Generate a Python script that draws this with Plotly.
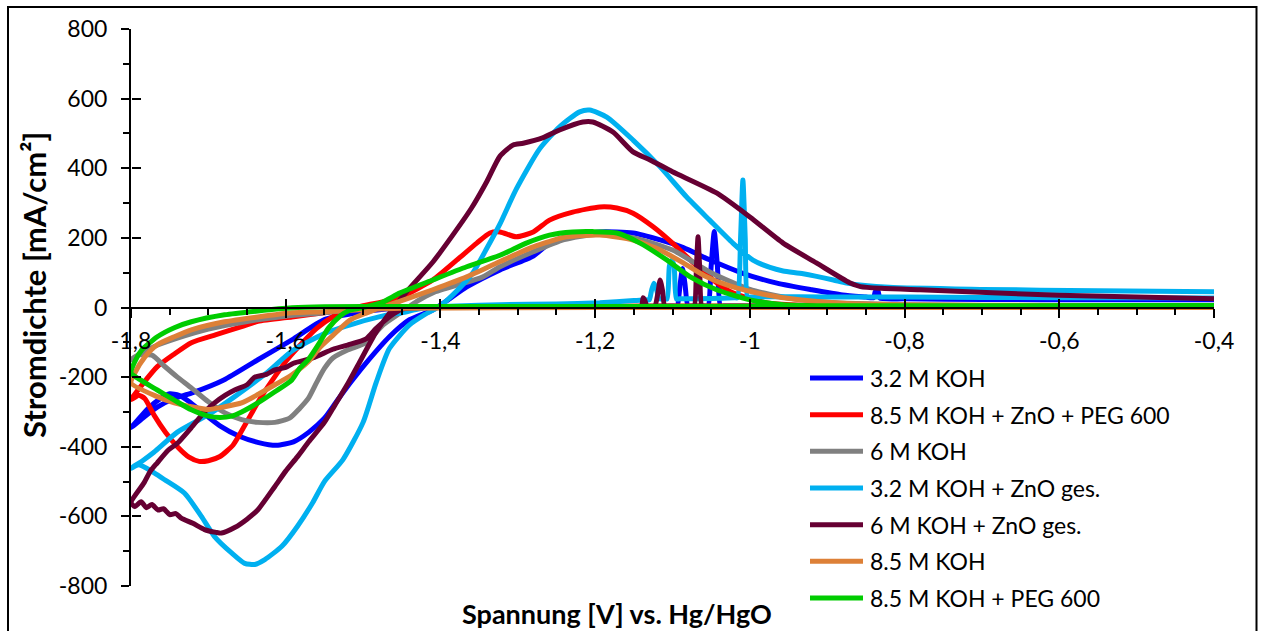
import plotly.graph_objects as go

# ---------------- data (potential in V vs Hg/HgO, current density in mA/cm2) ----------------
series_names = ["3.2 M KOH", "8.5 M KOH + ZnO + PEG 600", "6 M KOH",
                "3.2 M KOH + ZnO ges.", "6 M KOH + ZnO ges.", "8.5 M KOH",
                "8.5 M KOH + PEG 600"]
series_colors = ["#0000FF", "#FF0000", "#808080", "#00B0F0", "#660033", "#DD8037", "#00CC00"]

koh32_x = [-0.40, -0.60, -0.80, -0.90, -1.00, -1.034, -1.038, -1.042, -1.046, -1.050, -1.054, -1.058,
           -1.076, -1.080, -1.084, -1.087, -1.090, -1.094, -1.098, -1.15, -1.25, -1.35, -1.42, -1.47, -1.50,
           -1.55, -1.592, -1.636, -1.68, -1.722, -1.745, -1.765, -1.785, -1.80,
           -1.792, -1.778, -1.762, -1.750, -1.738, -1.725, -1.705, -1.685, -1.66, -1.635, -1.612, -1.59, -1.57,
           -1.55, -1.535, -1.515, -1.496, -1.466, -1.44, -1.41, -1.39, -1.366, -1.323, -1.28, -1.259, -1.237,
           -1.194, -1.151, -1.116, -1.086, -1.052, -1.01, -0.965, -0.92, -0.88, -0.85, -0.840, -0.838, -0.834,
           -0.832, -0.80, -0.70, -0.55, -0.40]
koh32_y = [5, 5, 5, 5, 4, 4, 4, 120, 218, 120, 4, 4,
           4, 4, 70, 112, 70, 4, 4, 3, 3, 2, 0, -4, -12,
           -35, -93, -150, -208, -246, -262, -285, -318, -345,
           -325, -290, -262, -248, -252, -270, -306, -340, -370, -388, -396, -386, -358,
           -318, -272, -212, -159, -84, -35, -7, 22, 59, 108, 148, 185, 203,
           217, 214, 194, 172, 137, 99, 70, 51, 36, 30, 28, 45, 45,
           27, 25, 23, 22, 22]

zpeg_x = [-0.40, -0.70, -0.90, -1.10, -1.30, -1.45, -1.50,
          -1.55, -1.592, -1.636, -1.657, -1.69, -1.722, -1.745, -1.766, -1.785, -1.80,
          -1.79, -1.782, -1.77, -1.755, -1.74, -1.725, -1.712, -1.70, -1.685, -1.668, -1.651, -1.634, -1.617,
          -1.60, -1.58, -1.56, -1.54, -1.52, -1.50, -1.47, -1.45, -1.41, -1.379, -1.353, -1.336, -1.323,
          -1.302, -1.28, -1.259, -1.229, -1.194, -1.172, -1.151, -1.125, -1.10, -1.073, -1.043, -1.022,
          -0.978, -0.94, -0.80, -0.60, -0.40]
zpeg_y = [4, 4, 5, 4, 3, 2, -2,
          -15, -27, -40, -55, -78, -101, -135, -170, -220, -265,
          -252, -262, -310, -360, -400, -430, -442, -440, -428, -395, -331, -265, -208,
          -155, -105, -60, -28, -8, 5, 18, 31, 79, 136, 185, 214, 217,
          203, 217, 251, 274, 289, 286, 271, 232, 185, 128, 71, 42,
          13, 7, 5, 5, 5]

koh6_x = [-0.40, -0.80, -1.00, -1.20, -1.40, -1.50, -1.55,
          -1.60, -1.65, -1.70, -1.74, -1.77, -1.79, -1.80,
          -1.791, -1.773, -1.757, -1.74, -1.722, -1.70, -1.679, -1.657, -1.636, -1.614, -1.595, -1.582,
          -1.571, -1.56, -1.55, -1.539, -1.52, -1.496, -1.474, -1.452, -1.43, -1.41, -1.345, -1.323,
          -1.28, -1.24, -1.20, -1.15, -1.10, -1.05, -1.00, -0.95, -0.90, -0.80, -0.60, -0.40]
koh6_y = [3, 3, 3, 3, 2, -3, -15,
          -25, -40, -62, -88, -112, -135, -150,
          -137, -137, -168, -200, -231, -271, -302, -322, -330, -330, -318, -290,
          -262, -215, -175, -145, -122, -101, -50, -16, 18, 42, 88, 117,
          160, 195, 210, 200, 165, 100, 52, 27, 15, 8, 5, 5]

zno32_x = [-0.40, -0.60, -0.80, -0.90, -0.98, -0.999, -1.003, -1.006, -1.009, -1.012, -1.016, -1.020,
           -1.05, -1.091, -1.095, -1.098, -1.101, -1.104, -1.107, -1.111, -1.117, -1.121, -1.124, -1.127,
           -1.130, -1.134, -1.15, -1.194, -1.25, -1.323, -1.38, -1.41, -1.43,
           -1.45, -1.47, -1.508, -1.55, -1.592, -1.623, -1.666, -1.70, -1.74, -1.77, -1.785, -1.80,
           -1.79, -1.783, -1.77, -1.757, -1.731, -1.709, -1.692, -1.67, -1.653, -1.64, -1.627, -1.605,
           -1.585, -1.565, -1.55, -1.526, -1.50, -1.483, -1.466, -1.44, -1.42, -1.40, -1.38, -1.358,
           -1.34, -1.323, -1.302, -1.272, -1.246, -1.22, -1.207, -1.185, -1.151, -1.116, -1.082, -1.052,
           -1.022, -0.996, -0.974, -0.957, -0.931, -0.892, -0.875, -0.82, -0.70, -0.55, -0.40]
zno32_y = [27, 28, 30, 30, 31, 30, 30, 200, 366, 200, 28, 28,
           26, 25, 25, 120, 136, 120, 25, 25, 25, 55, 70, 50,
           22, 22, 20, 14, 10, 8, 4, 2, -5,
           -15, -22, -44, -75, -125, -185, -256, -308, -358, -415, -440, -462,
           -452, -458, -475, -494, -533, -600, -658, -705, -735, -738, -724, -686,
           -629, -560, -500, -437, -330, -215, -118, -50, -20, 5, 45, 100,
           170, 240, 340, 455, 519, 562, 567, 547, 481, 404, 318, 251,
           185, 136, 115, 105, 97, 79, 70, 58, 52, 48, 45]

zno6_x = [-0.40, -0.60, -0.80, -1.00, -1.05, -1.058, -1.062, -1.065, -1.067, -1.069, -1.072, -1.076,
          -1.106, -1.110, -1.113, -1.116, -1.119, -1.123, -1.129, -1.133, -1.136, -1.138, -1.140, -1.144,
          -1.20, -1.30, -1.40, -1.45,
          -1.465, -1.483, -1.496, -1.52, -1.539, -1.565, -1.59, -1.60, -1.614, -1.625, -1.64, -1.65,
          -1.666, -1.678, -1.692, -1.705, -1.722, -1.74, -1.752, -1.766, -1.775, -1.783, -1.80,
          -1.795, -1.787, -1.78, -1.773, -1.765, -1.758, -1.75, -1.742, -1.735, -1.72, -1.705, -1.69,
          -1.683, -1.666, -1.65, -1.636, -1.614, -1.60, -1.585, -1.57, -1.55, -1.539, -1.52, -1.504,
          -1.483, -1.462, -1.44, -1.41, -1.385, -1.36, -1.34, -1.323, -1.306, -1.293, -1.268, -1.246,
          -1.216, -1.203, -1.177, -1.151, -1.129, -1.10, -1.043, -1.00, -0.957, -0.914, -0.871, -0.857,
          -0.83, -0.78, -0.60, -0.40]
zno6_y = [5, 4, 4, 3, 3, 3, 3, 120, 203, 120, 3, 3,
          3, 3, 50, 79, 40, 3, 3, 3, 22, 28, 3, 3,
          2, 2, 1, -5,
          -25, -60, -90, -108, -120, -145, -160, -172, -179, -192, -200, -222,
          -237, -252, -274, -300, -345, -390, -410, -446, -470, -503, -560,
          -572, -558, -575, -566, -582, -578, -595, -592, -605, -620, -638, -646,
          -648, -632, -608, -581, -514, -470, -429, -385, -330, -290, -220, -155,
          -70, -5, 55, 130, 205, 285, 362, 435, 467, 472, 487, 510,
          533, 533, 504, 447, 424, 390, 329, 260, 185, 128, 71, 60,
          55, 51, 35, 25]

koh85_x = [-0.40, -0.80, -1.20, -1.45, -1.50,
           -1.55, -1.592, -1.636, -1.679, -1.722, -1.744, -1.766, -1.782, -1.795, -1.80,
           -1.766, -1.744, -1.722, -1.70, -1.679, -1.657, -1.636, -1.614, -1.592, -1.571, -1.555, -1.539,
           -1.517, -1.496, -1.474, -1.452, -1.41, -1.366, -1.323, -1.28, -1.237, -1.194, -1.151, -1.116,
           -1.086, -1.056, -1.022, -0.978, -0.936, -0.88, -0.80, -0.60, -0.40]
koh85_y = [0, 0, 0, -2, -6,
           -12, -15, -27, -41, -64, -84, -107, -142, -188, -217,
           -256, -274, -285, -293, -285, -274, -250, -222, -193, -156, -113, -80,
           -36, -16, 2, 18, 51, 88, 132, 174, 203, 208, 194, 165,
           128, 88, 59, 36, 22, 12, 8, 6, 5]

peg85_x = [-0.40, -0.80, -1.20, -1.45, -1.55,
           -1.592, -1.636, -1.679, -1.722, -1.744, -1.766, -1.786, -1.795, -1.80,
           -1.79, -1.766, -1.744, -1.722, -1.70, -1.685, -1.67, -1.657, -1.636, -1.614, -1.592, -1.582,
           -1.571, -1.556, -1.545, -1.53, -1.517, -1.496, -1.475, -1.452, -1.41, -1.366, -1.323, -1.289,
           -1.259, -1.229, -1.203, -1.172, -1.142, -1.107, -1.077, -1.043, -1.00, -0.957, -0.90, -0.80,
           -0.60, -0.40]
peg85_y = [5, 4, 3, 3, 2,
           -1, -10, -21, -41, -58, -84, -122, -155, -188,
           -205, -237, -266, -294, -312, -316, -312, -300, -274, -242, -208, -175,
           -150, -100, -60, -25, -8, 2, 15, 42, 79, 117, 150, 185,
           208, 217, 218, 214, 185, 136, 88, 51, 22, 8, 5, 5,
           5, 6]

series_x = [koh32_x, zpeg_x, koh6_x, zno32_x, zno6_x, koh85_x, peg85_x]
series_y = [koh32_y, zpeg_y, koh6_y, zno32_y, zno6_y, koh85_y, peg85_y]

x_tickvals = [-1.8, -1.6, -1.4, -1.2, -1.0, -0.8, -0.6, -0.4]
x_ticktext = ["-1,8", "-1,6", "-1,4", "-1,2", "-1", "-0,8", "-0,6", "-0,4"]
y_tickvals = [-800, -600, -400, -200, 0, 200, 400, 600, 800]
y_ticktext = ["-800", "-600", "-400", "-200", "0", "200", "400", "600", "800"]

x_title = "Spannung [V] vs. Hg/HgO"
y_title = "Stromdichte [mA/cm²]"

# ---------------- figure ----------------
W, H = 1261, 631
ML, MR, MT, MB = 131, 47, 29, 45
PW, PH = W - ML - MR, H - MT - MB


def px_to_paper_x(px):
    return (px - ML) / PW


def px_to_paper_y(py):
    return (H - MB - py) / PH


FONT = "Lato"
fig = go.Figure()
for name, color, xs, ys in zip(series_names, series_colors, series_x, series_y):
    fig.add_trace(go.Scatter(x=xs, y=ys, mode="lines", name=name, showlegend=False,
                             line=dict(color=color, width=5, shape="spline", smoothing=0.6),
                             hoverinfo="skip"))

# empty helper trace so that the tick-crossing overlay axes are created
fig.add_trace(go.Scatter(x=[], y=[], xaxis="x2", yaxis="y2", showlegend=False, hoverinfo="skip"))

# legend drawn as line samples + text (longer samples than Plotly's built-in legend)
LEG_X0, LEG_X1, LEG_TX, LEG_Y0, LEG_DY = 810, 863, 868, 378, 36.67
shapes = [dict(type="rect", xref="paper", yref="paper",
               x0=px_to_paper_x(8), x1=px_to_paper_x(1256.5),
               y0=px_to_paper_y(640), y1=px_to_paper_y(7),
               line=dict(color="black", width=2), fillcolor="rgba(0,0,0,0)", layer="above")]
annotations = [
    dict(text=f"<b>{x_title}</b>", xref="paper", yref="paper", x=px_to_paper_x(617),
         y=px_to_paper_y(613), xanchor="center", yanchor="middle", showarrow=False,
         font=dict(family=FONT, size=27, color="black")),
    dict(text=f"<b>{y_title}</b>", xref="paper", yref="paper", x=px_to_paper_x(34),
         y=px_to_paper_y(285), xanchor="center", yanchor="middle", showarrow=False,
         textangle=-90, font=dict(family=FONT, size=31, color="black")),
]
for i, (name, color) in enumerate(zip(series_names, series_colors)):
    ly = LEG_Y0 + i * LEG_DY
    shapes.append(dict(type="line", xref="paper", yref="paper",
                       x0=px_to_paper_x(LEG_X0), x1=px_to_paper_x(LEG_X1),
                       y0=px_to_paper_y(ly), y1=px_to_paper_y(ly),
                       line=dict(color=color, width=5), layer="above"))
    annotations.append(dict(text=name, xref="paper", yref="paper", x=px_to_paper_x(LEG_TX),
                            y=px_to_paper_y(ly), xanchor="left", yanchor="middle", showarrow=False,
                            font=dict(family=FONT, size=23, color="black")))

common_axis = dict(showgrid=False, zeroline=False, color="black")
fig.update_layout(
    width=W, height=H,
    margin=dict(l=ML, r=MR, t=MT, b=MB, autoexpand=False),
    paper_bgcolor="white", plot_bgcolor="white",
    font=dict(family=FONT, size=23, color="black"),
    xaxis=dict(range=[-1.8, -0.4], anchor="free", position=0.5, showline=True, linecolor="black",
               linewidth=2, tickmode="array", tickvals=x_tickvals, ticktext=x_ticktext,
               ticks="outside", ticklen=9, tickwidth=2, tickcolor="black", ticklabelstandoff=4,
               tickfont=dict(family=FONT, size=23, color="black"),
               minor=dict(tickmode="linear", tick0=-1.8, dtick=0.05, ticks="outside", ticklen=6,
                          tickwidth=2, tickcolor="black"),
               **common_axis),
    yaxis=dict(range=[-800, 800], showline=True, linecolor="black", linewidth=2,
               tickmode="array", tickvals=y_tickvals, ticktext=y_ticktext,
               ticks="outside", ticklen=8, tickwidth=2, tickcolor="black", ticklabelstandoff=9,
               tickfont=dict(family=FONT, size=23, color="black"),
               minor=dict(tickmode="linear", tick0=0, dtick=100, ticks="outside", ticklen=6,
                          tickwidth=2, tickcolor="black"),
               **common_axis),
    xaxis2=dict(range=[-1.8, -0.4], overlaying="x", anchor="free", position=0.5, showline=False,
                tickmode="array", tickvals=x_tickvals, ticks="inside", ticklen=9, tickwidth=2,
                tickcolor="black", showticklabels=False, **common_axis),
    yaxis2=dict(range=[-800, 800], overlaying="y", anchor="free", position=0, showline=False,
                tickmode="array", tickvals=y_tickvals, ticks="inside", ticklen=9, tickwidth=2,
                tickcolor="black", showticklabels=False, **common_axis),
    showlegend=False,
    shapes=shapes,
    annotations=annotations,
)

fig.write_html("out.html")
